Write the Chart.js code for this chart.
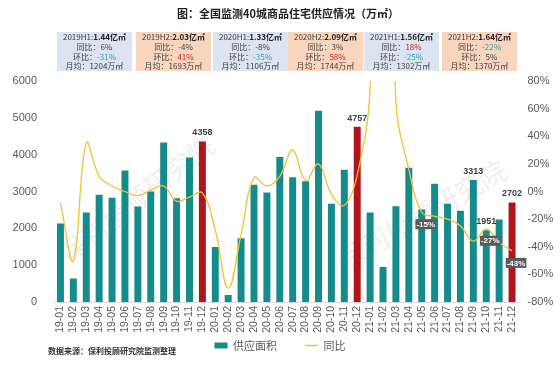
<!DOCTYPE html>
<html><head><meta charset="utf-8">
<script src="https://cdn.jsdelivr.net/npm/chart.js@4.4.0/dist/chart.umd.min.js"></script>
<style>
html,body{margin:0;padding:0;background:#fff;}
#wrap{position:relative;width:560px;height:370px;overflow:hidden;font-family:"Noto Sans CJK SC","Noto Sans",sans-serif;}
#title{position:absolute;left:0;top:6px;width:576px;text-align:center;font-size:11px;line-height:14px;font-weight:bold;color:#222;}
.box{position:absolute;top:32px;width:75px;height:39px;font-size:8px;line-height:9.75px;text-align:center;color:#404040;white-space:nowrap;}
.h1{background:#dbe4f0;} .h2{background:#f8d5bc;}
.box b{color:#222;}
.t{color:#2fa3a3;} .r{color:#c0232a;}
#src{position:absolute;left:48px;top:345px;font-size:8px;line-height:11px;font-weight:bold;color:#333;}
canvas{position:absolute;left:0;top:0;}
</style>
</head><body>
<div id="wrap">
<canvas id="c" width="560" height="370"></canvas>
<div id="title">图：全国监测40城商品住宅供应情况（万㎡）</div>
<div class="box h1" style="left:57px">2019H1:<b>1.44亿㎡</b><br>同比：6%<br>环比：<span class="t">-31%</span><br>月均：1204万㎡</div>
<div class="box h2" style="left:136px">2019H2:<b>2.03亿㎡</b><br>同比：-4%<br>环比：<span class="r">41%</span><br>月均：1693万㎡</div>
<div class="box h1" style="left:213px">2020H1:<b>1.33亿㎡</b><br>同比：-8%<br>环比：<span class="t">-35%</span><br>月均：1106万㎡</div>
<div class="box h2" style="left:288px">2020H2:<b>2.09亿㎡</b><br>同比：3%<br>环比：<span class="r">58%</span><br>月均：1744万㎡</div>
<div class="box h1" style="left:364px">2021H1:<b>1.56亿㎡</b><br>同比：<span class="r">18%</span><br>环比：<span class="t">-25%</span><br>月均：1302万㎡</div>
<div class="box h2" style="left:442px">2021H2:<b>1.64亿㎡</b><br>同比：<span class="t">-22%</span><br>环比：5%<br>月均：1370万㎡</div>
<div id="src">数据来源：保利投顾研究院监测整理</div>
</div>
<script>
const months = ['19-01','19-02','19-03','19-04','19-05','19-06','19-07','19-08','19-09','19-10','19-11','19-12',
                '20-01','20-02','20-03','20-04','20-05','20-06','20-07','20-08','20-09','20-10','20-11','20-12',
                '21-01','21-02','21-03','21-04','21-05','21-06','21-07','21-08','21-09','21-10','21-11','21-12'];
const supply = [2130,640,2430,2910,2830,3570,2590,3000,4330,2815,3925,4358,
                1490,190,1730,3185,2970,3940,3385,3275,5190,2670,3590,4757,
                2430,950,2600,3645,2510,3210,2670,2480,3313,1951,2240,2702];
const yoy = [-8,-50,35,11,4,0,-3,1,4,-7,-4,-1,
             -28,-70,-31,10,4,11,30,8,20,-2,-10,12,
             75,400,65,16,-15,-18,-20,-25,-36,-27,-37,-43];
const highlightMonths = ['19-12','20-12','21-12'];
const barLabelMonths = ['19-12','20-12','21-09','21-10','21-12'];
const yoyLabelMonths = ['21-05','21-10','21-12'];
const seriesNames = ['供应面积','同比'];
const watermark = '保利投顾研究院';

const TEAL = '#148c8c', RED = '#b0151b', GOLD = '#f0c232';

const labelPlugin = {
  id:'labels',
  afterDatasetsDraw(chart){
    const ctx = chart.ctx;
    ctx.save();
    const bm = chart.getDatasetMeta(0);
    ctx.font = 'bold 9px "Liberation Sans", Arial, sans-serif';
    ctx.fillStyle = '#404040'; ctx.textAlign='center'; ctx.textBaseline='bottom';
    barLabelMonths.forEach(m=>{
      const i = months.indexOf(m); const el = bm.data[i];
      ctx.fillText(String(supply[i]), el.x, el.y-4);
    });
    const lm = chart.getDatasetMeta(1);
    ctx.font = 'bold 8px "Liberation Sans", Arial, sans-serif';
    yoyLabelMonths.forEach(m=>{
      const i = months.indexOf(m); const el = lm.data[i];
      const txt = yoy[i] + '%';
      const w = ctx.measureText(txt).width + 2;
      const cx = el.x + 4, cy = el.y + 12;
      ctx.fillStyle = '#5a5a5a';
      ctx.fillRect(cx - w/2, cy - 5, w, 10);
      ctx.fillStyle = '#fff'; ctx.textBaseline = 'middle';
      ctx.fillText(txt, cx, cy + 0.5);
    });
    ctx.restore();
  }
};
const wmPlugin = {
  id:'wm',
  beforeDatasetsDraw(chart){
    const ctx = chart.ctx;
    ctx.save();
    ctx.font = '27px "Noto Sans CJK SC", sans-serif';
    ctx.fillStyle = 'rgba(190,190,190,0.25)';
    ctx.textBaseline = 'middle';
    [[62,258,-38],[340,262,-30]].forEach(([x,y,a])=>{
      ctx.save(); ctx.translate(x,y); ctx.rotate(a*Math.PI/180); ctx.fillText(watermark,0,0); ctx.restore();
    });
    ctx.restore();
  }
};
// let the rotated x labels extend below the (compact) axis box
const xClipPlugin = {
  id:'xclip',
  afterLayout(chart){ const s = chart.scales.x; s.bottom = s.top + 40; }
};

new Chart(document.getElementById('c'), {
  data:{
    labels: months,
    datasets:[
      {type:'bar', label:seriesNames[0], data:supply, yAxisID:'y', order:2,
       backgroundColor: months.map(m=>highlightMonths.includes(m)?RED:TEAL),
       barPercentage:0.54, categoryPercentage:1.0},
      {type:'line', label:seriesNames[1], data:yoy, yAxisID:'y1', order:1,
       borderColor:GOLD, backgroundColor:GOLD, borderWidth:1.3, pointRadius:0, tension:0.4, fill:false}
    ]
  },
  options:{
    responsive:false, animation:false, maintainAspectRatio:false,
    layout:{padding:{top:81,left:0,right:0,bottom:9}},
    plugins:{
      tooltip:{enabled:false},
      legend:{position:'bottom',
        labels:{color:'#595959', font:{size:11, family:'"Noto Sans CJK SC", sans-serif'}, usePointStyle:true, pointStyleWidth:13, boxHeight:6, padding:28,
          generateLabels(chart){
            return chart.data.datasets.map((d,i)=>({
              text:d.label, datasetIndex:i,
              fillStyle: i===0?TEAL:GOLD, strokeStyle: i===0?TEAL:GOLD,
              lineWidth: i===0?0:1.5, pointStyle: i===0?'rect':'line', hidden:false, fontColor:'#595959'
            }));
          }}}
    },
    scales:{
      x:{grid:{display:false, drawTicks:false}, border:{color:'#d9d9d9'},
         ticks:{autoSkip:false, minRotation:90, maxRotation:90, padding:4, color:'#595959', font:{size:10.5, family:'"Liberation Sans", Arial, sans-serif'}},
         afterFit(s){ s.height = 10; }},
      y:{position:'left', min:0, max:6000, grid:{display:false, drawTicks:false}, border:{display:false},
         ticks:{stepSize:1000, padding:17, color:'#595959', font:{size:11, family:'"Liberation Sans", Arial, sans-serif'}, callback:v=>String(v)},
         afterFit(s){ s.width = 54; }},
      y1:{position:'right', min:-80, max:80, grid:{display:false, drawTicks:false}, border:{display:false},
         ticks:{stepSize:20, padding:9, color:'#595959', font:{size:11, family:'"Liberation Sans", Arial, sans-serif'}, callback:v=>v+'%'},
         afterFit(s){ s.width = 41.5; }}
    }
  },
  plugins:[wmPlugin, labelPlugin, xClipPlugin]
});
</script>
</body></html>
